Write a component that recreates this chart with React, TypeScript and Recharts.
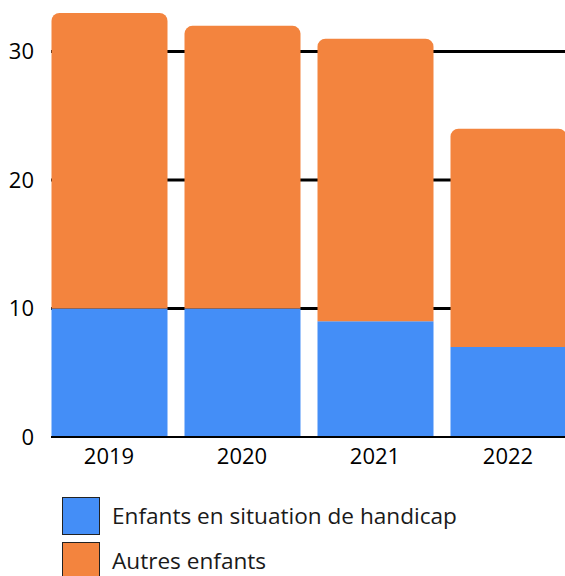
import React from "react";
import { BarChart, Bar, XAxis, YAxis, CartesianGrid, Legend } from "recharts";

const years = ["2019", "2020", "2021", "2022"];
const handicap = [10, 10, 9, 7];
const autres = [23, 22, 22, 17];
const yTicks = [0, 10, 20, 30];
const seriesNames = ["Enfants en situation de handicap", "Autres enfants"];
const seriesColors = ["#448EF7", "#F3843E"];

const data = years.map((y, i) => ({ year: y, handicap: handicap[i], autres: autres[i] }));

const FONT = "'Open Sans', sans-serif";

const LegendContent = () => (
  <div style={{ fontFamily: FONT }}>
    {seriesNames.map((name, i) => (
      <div key={name} style={{ display: "flex", alignItems: "center", height: 45 }}>
        <div
          style={{
            width: 36,
            height: 36,
            background: seriesColors[i],
            border: "1px solid #222",
            marginRight: 12,
          }}
        />
        <span style={{ fontSize: 22.6, color: "#1a1a1a" }}>{name}</span>
      </div>
    ))}
  </div>
);

export default function App() {
  return (
    <div
      style={{
        width: 565,
        height: 576,
        paddingLeft: 8,
        paddingTop: 8,
        boxSizing: "border-box",
        overflow: "hidden",
      }}
    >
      <style>{`html,body{margin:0;padding:0;}`}</style>
      <BarChart
        width={560}
        height={568}
        data={data}
        margin={{ top: 5, right: 2, bottom: 0, left: 0 }}
        style={{ fontFamily: FONT }}
      >
        <CartesianGrid
          vertical={false}
          horizontal={true}
          horizontalValues={[10, 20, 30]}
          stroke="#000"
          strokeWidth={3}
        />
        <XAxis
          dataKey="year"
          height={139}
          padding={{ left: -8.5, right: -8.5 }}
          tickLine={false}
          tickSize={0}
          tickMargin={11}
          axisLine={{ stroke: "#000", strokeWidth: 2 }}
          tick={{ fill: "#000", fontSize: 22 }}
        />
        <YAxis
          width={43}
          domain={[0, 33]}
          ticks={yTicks}
          axisLine={false}
          tickLine={false}
          tickSize={0}
          tickMargin={17}
          tick={{ fill: "#000", fontSize: 22 }}
        />
        <Legend
          layout="vertical"
          align="center"
          verticalAlign="middle"
          content={<LegendContent />}
          wrapperStyle={{ top: 485, left: 54, width: 480, height: 90 }}
        />
        <Bar
          dataKey="handicap"
          name={seriesNames[0]}
          stackId="a"
          fill={seriesColors[0]}
          barSize={116}
          isAnimationActive={false}
        />
        <Bar
          dataKey="autres"
          name={seriesNames[1]}
          stackId="a"
          fill={seriesColors[1]}
          barSize={116}
          radius={[8, 8, 0, 0]}
          isAnimationActive={false}
        />
      </BarChart>
    </div>
  );
}
